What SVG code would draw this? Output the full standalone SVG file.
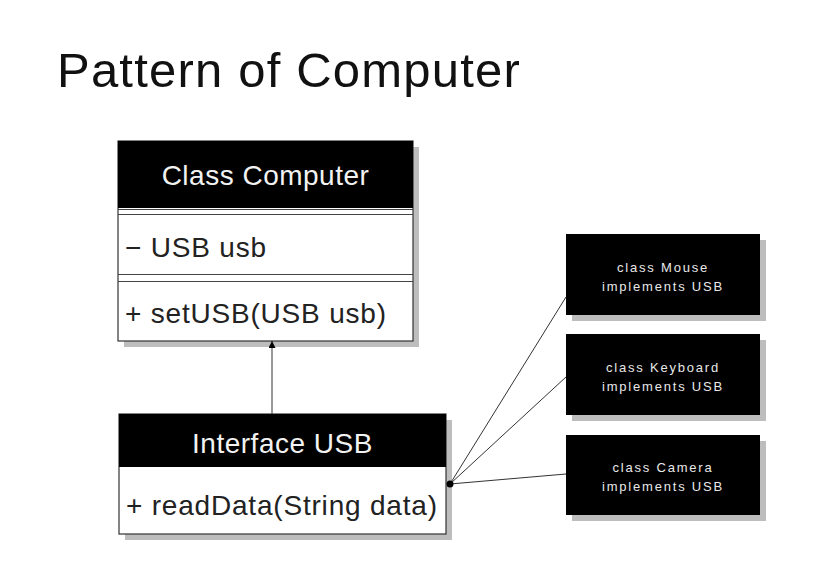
<svg xmlns="http://www.w3.org/2000/svg" width="835" height="570" viewBox="0 0 835 570">
  <style>
    .shadow { fill: #bdbdbd; }
    .hdr { fill: #000; }
    .body { fill: #fff; stroke: #333; stroke-width: 1.2; }
    .sep { stroke: #444; stroke-width: 1; }
    .big { font-family: "Liberation Sans", Arial, sans-serif; font-size: 28px; }
    .white { fill: #f2f2f2; }
    .dark { fill: #222; letter-spacing: 0.8px; }
    .small { font-family: "Liberation Sans", Arial, sans-serif; font-size: 13px; letter-spacing: 1.8px; fill: #e8e8e8; }
    .conn { stroke: #333; stroke-width: 1; fill: none; }
  </style>
  <defs>
    <marker id="arr" viewBox="0 0 10 10" refX="10" refY="5" markerWidth="7" markerHeight="7" orient="auto" markerUnits="userSpaceOnUse">
      <path d="M0,0 L10,5 L0,10 z" fill="#000"/>
    </marker>
  </defs>
  <rect width="835" height="570" fill="#fff"/>
  <text x="57" y="87" font-family="Liberation Sans, Arial, sans-serif" font-size="49" letter-spacing="1.2" fill="#111">Pattern of Computer</text>

  <g id="computer">
    <rect class="shadow" x="124" y="147" width="295" height="200"/>
    <rect class="body" x="118" y="141" width="295" height="200"/>
    <rect class="hdr" x="118" y="141" width="295" height="67"/>
    <line class="sep" x1="118" y1="209.5" x2="413" y2="209.5"/>
    <line class="sep" x1="118" y1="214.5" x2="413" y2="214.5"/>
    <line class="sep" x1="118" y1="274.5" x2="413" y2="274.5"/>
    <line class="sep" x1="118" y1="281.5" x2="413" y2="281.5"/>
    <text class="big white" x="265.5" y="185" text-anchor="middle" letter-spacing="0.5">Class Computer</text>
    <text class="big dark" x="125" y="257">− USB usb</text>
    <text class="big dark" x="125" y="323">+ setUSB(USB usb)</text>
  </g>

  <g id="usb">
    <rect class="shadow" x="125" y="420" width="327" height="120"/>
    <rect class="body" x="119" y="414" width="327" height="120"/>
    <rect class="hdr" x="119" y="414" width="327" height="53"/>
    <text class="big white" x="282.5" y="453" text-anchor="middle" letter-spacing="0.5">Interface USB</text>
    <text class="big dark" x="126" y="515">+ readData(String data)</text>
  </g>

  <g id="mouse">
    <rect class="shadow" x="572" y="240" width="194" height="81"/>
    <rect class="hdr" x="566" y="234" width="194" height="81"/>
    <text class="small" x="663" y="272" text-anchor="middle">class Mouse</text>
    <text class="small" x="663" y="291" text-anchor="middle">implements USB</text>
  </g>

  <g id="keyboard">
    <rect class="shadow" x="572" y="340" width="194" height="81"/>
    <rect class="hdr" x="566" y="334" width="194" height="81"/>
    <text class="small" x="663" y="372" text-anchor="middle">class Keyboard</text>
    <text class="small" x="663" y="391" text-anchor="middle">implements USB</text>
  </g>

  <g id="camera">
    <rect class="shadow" x="572" y="441" width="194" height="80"/>
    <rect class="hdr" x="566" y="435" width="194" height="80"/>
    <text class="small" x="663" y="472" text-anchor="middle">class Camera</text>
    <text class="small" x="663" y="491" text-anchor="middle">implements USB</text>
  </g>

  <g id="connectors">
    <line class="conn" x1="272" y1="414" x2="272" y2="341" marker-end="url(#arr)"/>
    <line class="conn" x1="566" y1="297" x2="450" y2="484"/>
    <line class="conn" x1="566" y1="377" x2="450" y2="484"/>
    <line class="conn" x1="566" y1="474" x2="450" y2="484"/>
    <circle cx="450" cy="484" r="3.5" fill="#000"/>
  </g>
</svg>
